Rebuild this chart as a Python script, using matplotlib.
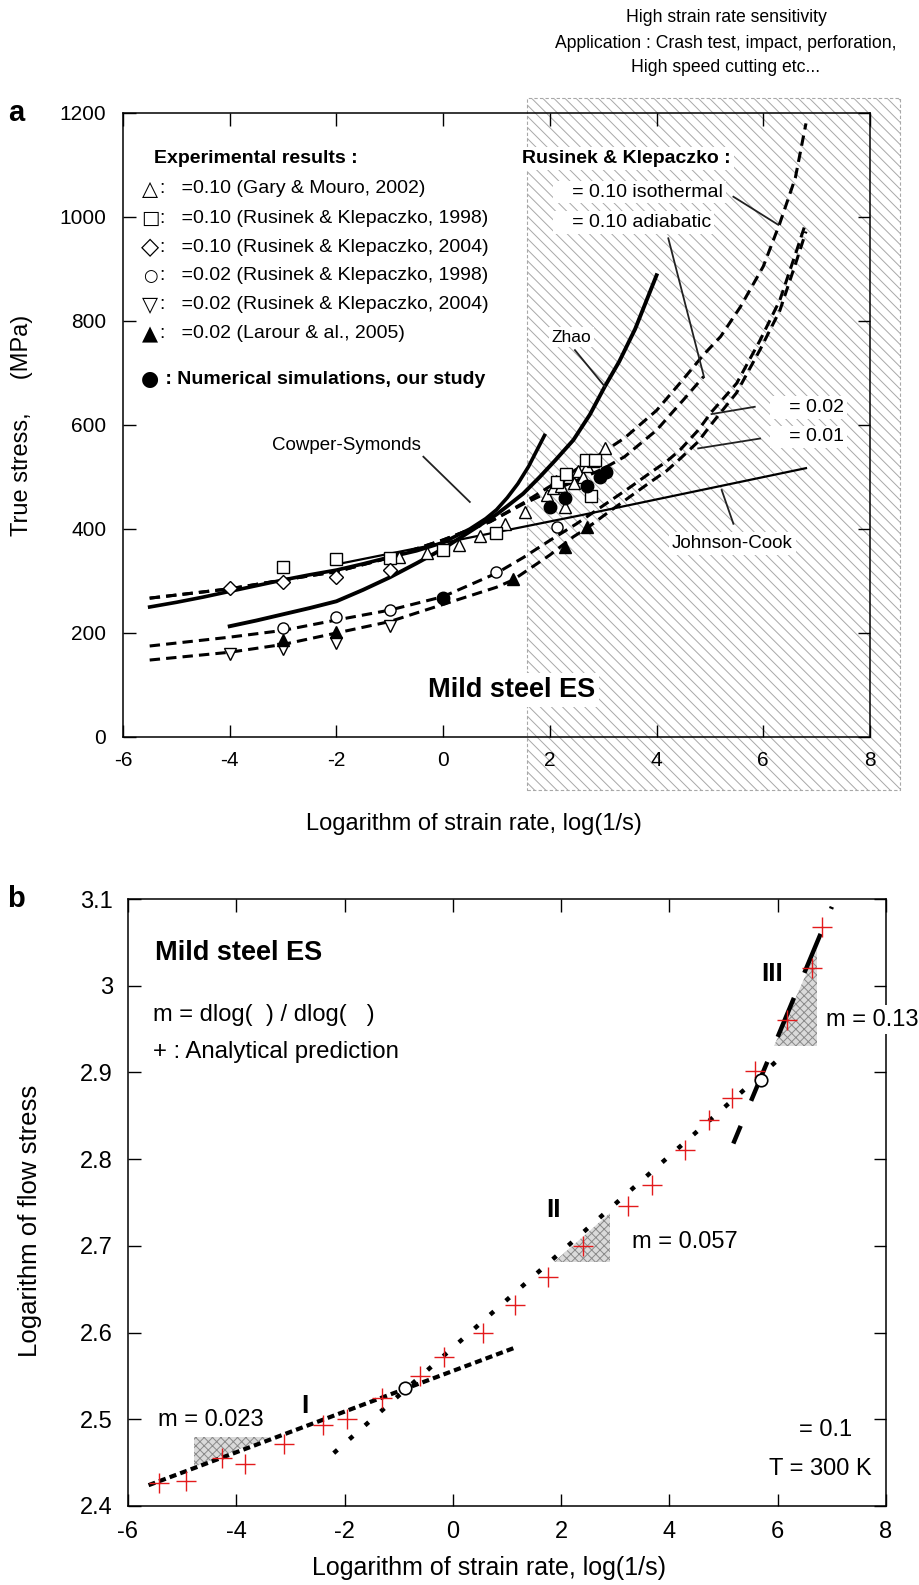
import matplotlib
matplotlib.use("Agg")
import matplotlib.pyplot as plt
import matplotlib.ticker as mticker
from matplotlib.patches import Rectangle, Polygon

plt.rcParams['font.family'] = ['Liberation Sans', 'DejaVu Sans']
plt.rcParams['axes.unicode_minus'] = False
plt.rcParams['hatch.linewidth'] = 0.7
plt.rcParams['axes.linewidth'] = 1.1

# ======================= Panel a data =======================
x_ticks_a = [-6, -4, -2, 0, 2, 4, 6, 8]
y_ticks_a = [0, 200, 400, 600, 800, 1000, 1200]
high_rate_from = 1.58

# experimental points (log strain rate, true stress MPa)
gary_x = [-0.82, -0.31, 0.30, 0.69, 1.15, 1.53, 1.94, 2.05, 2.12, 2.20, 2.28, 2.35, 2.45, 2.52, 2.62, 2.70, 2.80, 3.03]
gary_y = [347, 354, 369, 387, 410, 433, 465, 478, 492, 482, 443, 500, 488, 512, 500, 522, 530, 555]
rk98sq_x = [-3, -2, -1, 0, 1.0, 2.13, 2.30, 2.67, 2.77, 2.84]
rk98sq_y = [326, 342, 345, 360, 393, 491, 505, 533, 463, 533]
rk04dia_x = [-4, -3, -2, -1]
rk04dia_y = [286, 299, 308, 322]
rk98circ_x = [-3, -2, -1, 0, 1, 2.13]
rk98circ_y = [209, 230, 244, 268, 317, 404]
rk04inv_x = [-4, -3, -2, -1]
rk04inv_y = [160, 170, 181, 213]
larour_x = [-3, -2, 1.31, 2.28, 2.69]
larour_y = [187, 201, 303, 366, 404]
num_x = [0, 2.0, 2.28, 2.69, 2.94, 3.05]
num_y = [268, 442, 459, 483, 500, 510]

# model curves
cs_x = [-5.5, -5.0, -4.5, -4.0, -3.5, -3.0, -2.5, -2.0, -1.5, -1.0, -0.5, 0.0, 0.5, 0.8, 1.0, 1.2, 1.4, 1.6, 1.75, 1.9]
cs_y = [250, 259, 269, 280, 291, 302, 312, 321, 333, 346, 358, 374, 400, 420, 437, 460, 487, 520, 550, 580]
zhao_x = [-4.0, -3.5, -3.0, -2.5, -2.0, -1.5, -1.0, -0.5, 0.0, 0.5, 1.0, 1.19, 1.5, 1.81, 2.1, 2.44, 2.75, 3.03, 3.3, 3.6, 4.0]
zhao_y = [213, 224, 236, 248, 261, 283, 307, 334, 362, 395, 428, 443, 468, 500, 532, 571, 620, 674, 722, 785, 888]
jc_x = [-2.0, 2.56, 6.8]
jc_y = [332, 426, 517]
iso10_x = [-5.5, -4, -3, -2, -1, 0, 0.88, 1.5, 2.0, 2.5, 3.0, 3.4, 4.0, 4.5, 4.88, 5.2, 5.57, 6.0, 6.31, 6.6, 6.8]
iso10_y = [267, 285, 302, 318, 345, 379, 414, 450, 482, 515, 548, 575, 628, 688, 735, 770, 827, 905, 988, 1075, 1180]
adi10_x = [-5.5, -4, -3, -2, -1, 0, 0.88, 1.5, 2.0, 2.5, 3.0, 3.4, 4.0, 4.5, 4.88]
adi10_y = [267, 285, 302, 318, 345, 379, 414, 448, 472, 493, 516, 539, 590, 648, 693]
e02_x = [-5.5, -4, -3, -2, -1, 0, 1.0, 1.5, 2.0, 2.5, 3.0, 3.5, 3.88, 4.19, 4.44, 4.78, 5.03, 5.5, 5.94, 6.31, 6.63, 6.8]
e02_y = [175, 192, 205, 225, 244, 270, 315, 345, 378, 410, 445, 480, 508, 530, 552, 590, 625, 680, 763, 840, 937, 990]
e01_x = [-5.5, -4, -3, -2, -1, 0, 1.0, 1.31, 2.0, 2.44, 2.7, 3.0, 3.5, 3.88, 4.19, 4.44, 4.78, 5.03, 5.5, 5.94, 6.31, 6.63, 6.8]
e01_y = [148, 163, 178, 200, 222, 255, 288, 302, 350, 385, 402, 425, 462, 490, 512, 535, 568, 602, 662, 745, 820, 918, 972]

# ======================= Panel b data =======================
x_ticks_b = [-6, -4, -2, 0, 2, 4, 6, 8]
y_ticks_b = [2.4, 2.5, 2.6, 2.7, 2.8, 2.9, 3.0, 3.1]
pred_x = [-5.42, -4.93, -4.27, -3.84, -3.12, -2.40, -1.96, -1.30, -0.61, -0.16, 0.55, 1.15, 1.76, 2.41, 3.24, 3.67, 4.29, 4.74, 5.16, 5.58, 6.17, 6.63, 6.82]
pred_y = [2.427, 2.429, 2.455, 2.448, 2.471, 2.493, 2.500, 2.525, 2.550, 2.572, 2.599, 2.632, 2.664, 2.700, 2.746, 2.770, 2.811, 2.845, 2.870, 2.902, 2.961, 3.020, 3.068]
reg1_x = [-5.62, 1.12]
reg1_y = [2.424, 2.582]
reg2_x = [-2.20, 6.05]
reg2_y = [2.461, 2.917]
reg3_x = [5.18, 7.00]
reg3_y = [2.818, 3.091]
trans_x = [-0.88, 5.70]
trans_y = [2.536, 2.891]
tri1_x = [-4.79, -4.79, -3.38]
tri1_y = [2.445, 2.479, 2.479]
tri2_x = [1.86, 2.90, 2.90]
tri2_y = [2.681, 2.681, 2.738]
tri3_x = [5.93, 6.72, 6.72]
tri3_y = [2.931, 2.931, 3.041]

# ======================= Figure =======================
FW, FH = 920.0, 1585.0
fig = plt.figure(figsize=(9.2, 15.85), dpi=100)


def rect(l, t, r, b):
    return [l / FW, 1 - b / FH, (r - l) / FW, (b - t) / FH]


axa = fig.add_axes(rect(123, 113, 870, 737))
axa.set_facecolor('none')
axb = fig.add_axes(rect(128, 899, 886, 1506))

# ---------- Panel a ----------
axa.set_xlim(-6, 8)
axa.set_ylim(0, 1200)
axa.set_xticks(x_ticks_a)
axa.set_yticks(y_ticks_a)
axa.tick_params(direction='in', length=9, width=1, top=True, right=True,
                labelsize=15, pad=10)
axa.tick_params(axis='y', pad=12)

# high strain rate hatched region (figure-level, behind the axes)
x0 = fig.transFigure.inverted().transform(axa.transData.transform((high_rate_from, 0)))[0]
hr = Rectangle((x0, 1 - 790 / FH), 900 / FW - x0, (790 - 98) / FH,
               transform=fig.transFigure, facecolor='white', edgecolor='#a8a8a8',
               hatch='\\\\\\', lw=0.8, ls=(0, (3, 2)), zorder=-1)
fig.add_artist(hr)

dash_a = (0, (3.4, 2.0))
axa.plot(iso10_x, iso10_y, color='k', lw=2.2, ls=dash_a, zorder=2)
axa.plot(adi10_x, adi10_y, color='k', lw=2.2, ls=dash_a, zorder=2)
axa.plot(e02_x, e02_y, color='k', lw=2.2, ls=dash_a, zorder=2)
axa.plot(e01_x, e01_y, color='k', lw=2.2, ls=dash_a, zorder=2)
axa.plot(cs_x, cs_y, color='k', lw=2.6, zorder=2, solid_joinstyle='round')
axa.plot(zhao_x, zhao_y, color='k', lw=2.8, zorder=2, solid_joinstyle='round')
axa.plot(jc_x, jc_y, color='k', lw=1.6, zorder=2)

mk = dict(ls='none', mec='k', mew=1.0, zorder=4)
axa.plot(gary_x, gary_y, marker='^', ms=9, mfc='white', **mk)
axa.plot(rk98sq_x, rk98sq_y, marker='s', ms=8, mfc='white', **mk)
axa.plot(rk04dia_x, rk04dia_y, marker='D', ms=7, mfc='white', **mk)
axa.plot(rk98circ_x, rk98circ_y, marker='o', ms=8, mfc='white', **mk)
axa.plot(rk04inv_x, rk04inv_y, marker='v', ms=9, mfc='white', **mk)
axa.plot(larour_x, larour_y, marker='^', ms=8, mfc='k', **mk)
axa.plot(num_x, num_y, marker='o', ms=9, mfc='k', **mk)

axa.set_xlabel('Logarithm of strain rate, log(1/s)', fontsize=17)
axa.xaxis.set_label_coords(0.47, -0.122)
axa.set_ylabel('True stress,     (MPa)', fontsize=17)
axa.yaxis.set_label_coords(-0.121, 0.5)

wb = dict(boxstyle='square,pad=0.15', fc='white', ec='none')

# legend block
axa.text(-5.42, 1113, 'Experimental results :', fontsize=14, fontweight='bold', va='center')
leg_rows = [('\u25B3', ':   =0.10 (Gary & Mouro, 2002)', 1054, 15),
            ('\u25A1', ':   =0.10 (Rusinek & Klepaczko, 1998)', 998, 14),
            ('\u25C7', ':   =0.10 (Rusinek & Klepaczko, 2004)', 942, 17),
            ('\u25CB', ':   =0.02 (Rusinek & Klepaczko, 1998)', 887, 12),
            ('\u25BD', ':   =0.02 (Rusinek & Klepaczko, 2004)', 831, 15),
            ('\u25B2', ':   =0.02 (Larour & al., 2005)', 775, 15)]
for sym, txt, yy, fs in leg_rows:
    axa.text(-5.49, yy, sym, fontsize=fs, ha='center', va='center',
             family=['DejaVu Sans'])
    axa.text(-5.30, yy, txt, fontsize=14, va='center')
axa.text(-5.49, 688, '\u25CF', fontsize=15, ha='center', va='center', family=['DejaVu Sans'])
axa.text(-5.30, 688, ' : Numerical simulations, our study', fontsize=14,
         fontweight='bold', va='center')

axa.text(1.48, 1113, 'Rusinek & Klepaczko :', fontsize=14, fontweight='bold',
         va='center', bbox=wb, zorder=6)
axa.text(2.11, 1048, '   = 0.10 isothermal', fontsize=14, va='center', bbox=wb, zorder=6)
axa.text(2.11, 990, '   = 0.10 adiabatic', fontsize=14, va='center', bbox=wb, zorder=6)
axa.text(2.41, 769, 'Zhao', fontsize=12.5, ha='center', va='center', bbox=wb, zorder=6)
axa.text(6.18, 634, '   = 0.02', fontsize=14, va='center', bbox=wb, zorder=6)
axa.text(6.18, 577, '   = 0.01', fontsize=14, va='center', bbox=wb, zorder=6)
axa.text(-1.82, 561, 'Cowper-Symonds', fontsize=13.5, ha='center', va='center', zorder=6)
axa.text(5.42, 372, 'Johnson-Cook', fontsize=13.5, ha='center', va='center', bbox=wb, zorder=6)
axa.text(1.28, 90, 'Mild steel ES', fontsize=19.5, fontweight='bold', ha='center',
         va='center', bbox=wb, zorder=6)

leaders = [((-0.37, 0.50), (539, 452)),
           ((2.47, 3.03), (744, 674)),
           ((5.44, 6.28), (1039, 985)),
           ((4.22, 4.89), (959, 692)),
           ((5.84, 5.03), (635, 621)),
           ((5.94, 4.78), (574, 555)),
           ((5.22, 5.44), (475, 410))]
for lx, ly in leaders:
    axa.plot(lx, ly, color='#222222', lw=1.3, zorder=5)

# top annotation
fig.text(726 / FW, 1 - 18 / FH, 'High strain rate sensitivity', fontsize=12.7,
         ha='center', va='center')
fig.text(726 / FW, 1 - 43 / FH, 'Application : Crash test, impact, perforation,',
         fontsize=12.7, ha='center', va='center')
fig.text(726 / FW, 1 - 68 / FH, 'High speed cutting etc...', fontsize=12.7,
         ha='center', va='center')
fig.text(16 / FW, 1 - 113 / FH, 'a', fontsize=21, fontweight='bold', ha='center', va='center')
fig.text(16 / FW, 1 - 899 / FH, 'b', fontsize=21, fontweight='bold', ha='center', va='center')

# ---------- Panel b ----------
axb.set_xlim(-6, 8)
axb.set_ylim(2.4, 3.1)
axb.set_xticks(x_ticks_b)
axb.set_yticks(y_ticks_b)
axb.yaxis.set_major_formatter(mticker.FuncFormatter(lambda v, p: '%g' % round(v, 3)))
axb.tick_params(direction='in', length=9, width=1, top=True, right=True,
                labelsize=17, pad=11)

for tx, ty in [(tri1_x, tri1_y), (tri2_x, tri2_y), (tri3_x, tri3_y)]:
    axb.add_patch(Polygon(list(zip(tx, ty)), closed=True, facecolor='#dadada',
                          edgecolor='#8a8a8a', hatch='xxxx', lw=0, zorder=1))

axb.plot(reg1_x, reg1_y, color='k', lw=3.0, ls=(0, (1.7, 1.0)), zorder=2)
axb.plot(reg2_x, reg2_y, color='k', lw=3.2, ls=(0, (1.1, 3.6)), zorder=2)
axb.plot(reg3_x, reg3_y, color='k', lw=3.2, ls=(5.2, (9.5, 6.1)), zorder=2)
axb.plot(pred_x, pred_y, ls='none', marker='+', ms=15, mew=1.0, color='#e31a1c', zorder=4)
axb.plot(trans_x, trans_y, ls='none', marker='o', ms=9, mfc='white', mec='k', mew=1.2, zorder=5)

axb.set_xlabel('Logarithm of strain rate, log(1/s)', fontsize=18)
axb.xaxis.set_label_coords(0.476, -0.082)
axb.set_ylabel('Logarithm of flow stress', fontsize=18.5)
axb.yaxis.set_label_coords(-0.113, 0.47)

axb.text(-5.5, 3.038, 'Mild steel ES', fontsize=19.5, fontweight='bold', va='center')
axb.text(-5.54, 2.966, 'm = dlog(  ) / dlog(   )', fontsize=17, va='center')
axb.text(-5.54, 2.923, '+ : Analytical prediction', fontsize=17.3, va='center')
axb.text(-5.44, 2.499, 'm = 0.023', fontsize=17, va='center')
axb.text(3.30, 2.705, 'm = 0.057', fontsize=17, va='center')
axb.text(6.90, 2.961, 'm = 0.13', fontsize=17, va='center', bbox=wb, zorder=6, clip_on=False)
axb.text(-2.73, 2.515, 'I', fontsize=19, fontweight='bold', ha='center', va='center')
axb.text(1.86, 2.741, 'II', fontsize=19, fontweight='bold', ha='center', va='center')
axb.text(5.89, 3.014, 'III', fontsize=19, fontweight='bold', ha='center', va='center')
axb.text(7.37, 2.488, '= 0.1', fontsize=17, ha='right', va='center')
axb.text(7.74, 2.443, 'T = 300 K', fontsize=17, ha='right', va='center')

fig.savefig('out.png', dpi=100)
